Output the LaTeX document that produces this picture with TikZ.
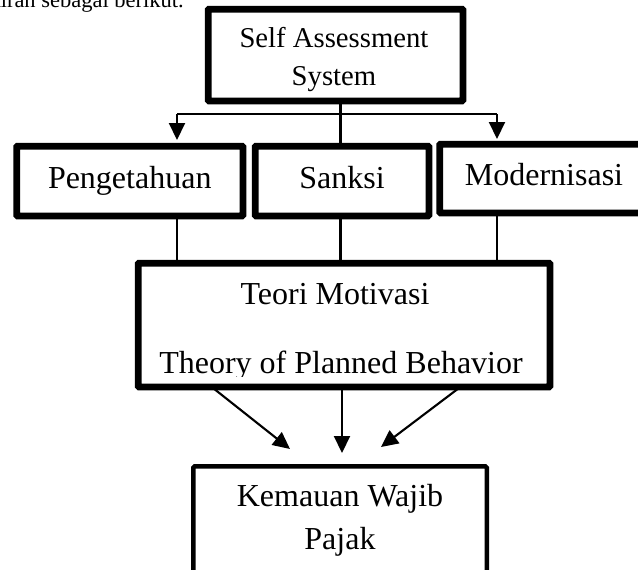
\documentclass[tikz,border=0pt]{standalone}
\usepackage{fontspec}
\setmainfont{Liberation Serif}
\usetikzlibrary{arrows.meta}
\newcommand\dgfont{\fontsize{32}{38}\selectfont}
\newcommand\dgsmall{\fontsize{28.7}{34}\selectfont}
\tikzset{
  box/.style={draw, line width=4.5pt, fill=white, rounded corners=1.5pt, inner sep=0pt, shape=rectangle},
  lbl/.style={anchor=base, inner sep=0pt, font=\dgfont},
  conn/.style={line width=2.1pt},
  arr/.style={conn, -{Triangle[width=16pt,length=17pt]}}
}
\begin{document}
\begin{tikzpicture}[x=1pt, y=-1pt]
\useasboundingbox (0,0) rectangle (638,570);
\clip (0,0) rectangle (638,570);
\fill[white] (0,0) rectangle (638,570);

% page text cut off at the top, as in the reference
\node[anchor=base east, inner sep=0pt, font=\fontsize{22.5}{27}\selectfont] (pagetxt) at (184,7) {pemikiran sebagai berikut.};

% junction coordinates
\coordinate (jl) at (177,114);
\coordinate (jc) at (340.5,114);
\coordinate (jr) at (497,114);
\coordinate (e1) at (290,449);
\coordinate (e2) at (342,453);
\coordinate (e3) at (381,447);

% boxes
\node[box, minimum width=252.5pt, minimum height=89.5pt] (top) at (335.5,55) {};
\node[box, minimum width=224pt, minimum height=67.5pt] (peng) at (129.75,181) {};
\node[box, minimum width=171.5pt, minimum height=67.5pt] (sank) at (342,181) {};
\node[box, minimum width=207pt, minimum height=66.5pt] (modn) at (544.3,178.5) {};
\node[box, minimum width=409.5pt, minimum height=121.5pt] (teori) at (344,325) {};
\node[box, minimum width=293.5pt, minimum height=111.5pt] (kem) at (340,522) {};

% connectors
\draw[conn] (jc |- top.south) -- (jc |- sank.north);
\draw[conn] (jl) -- (jr);
\draw[arr, shorten >=5pt] (jl) -- (jl |- peng.north);
\draw[arr, shorten >=4pt] (jr) -- (jr |- modn.north);
\draw[conn] (jl |- peng.south) -- (jl |- teori.north);
\draw[conn] (jc |- sank.south) -- (jc |- teori.north);
\draw[conn] (jr |- modn.south) -- (jr |- teori.north);
\draw[arr] ([xshift=-131pt]teori.south) -- (e1);
\draw[arr] ([xshift=-2pt]teori.south) -- (e2);
\draw[arr] ([xshift=115pt]teori.south) -- (e3);

% redraw box borders over line ends
\draw[line width=4.5pt, rounded corners=1.5pt] (top.north west) rectangle (top.south east);
\draw[line width=4.5pt, rounded corners=1.5pt] (peng.north west) rectangle (peng.south east);
\draw[line width=4.5pt, rounded corners=1.5pt] (sank.north west) rectangle (sank.south east);
\draw[line width=4.5pt, rounded corners=1.5pt] (modn.north west) rectangle (modn.south east);
\draw[line width=4.5pt, rounded corners=1.5pt] (teori.north west) rectangle (teori.south east);

% texts
\node[lbl, font=\dgsmall] (t1) at (334,47) {Self Assessment};
\node[lbl, font=\dgsmall] (t2) at (334,85) {System};
\node[lbl] (t3) at (129.75,188) {Pengetahuan};
\node[lbl] (t4) at (342,188) {Sanksi};
\node[lbl] (t5) at (544,185) {Modernisasi};
\node[lbl] (t6) at (335,304) {Teori Motivasi};
\begin{scope}
\clip (137,262) rectangle (551,376);
\node[lbl] (t7) at (341,373) {Theory of Planned Behavior};
\end{scope}
\node[lbl] (t8) at (340,506) {Kemauan Wajib};
\node[lbl] (t9) at (340,549) {Pajak};
\end{tikzpicture}
\end{document}
